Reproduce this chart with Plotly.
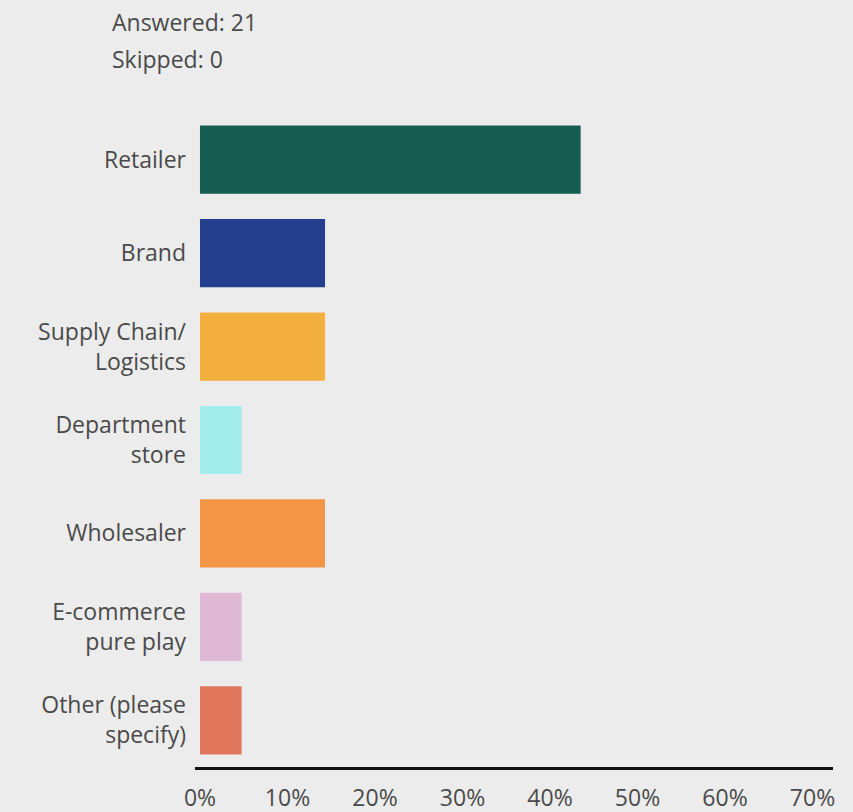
import plotly.graph_objects as go

categories = ["Retailer", "Brand", "Supply Chain/<br>Logistics", "Department<br>store",
              "Wholesaler", "E-commerce<br>pure play", "Other (please<br>specify)"]
values = [43.5, 14.29, 14.29, 4.76, 14.29, 4.76, 4.76]
colors = ["#165c50", "#253f8f", "#f3af3f", "#a3ecec", "#f39646", "#dfb8d6", "#e0775d"]
tick_vals = [0, 10, 20, 30, 40, 50, 60, 70]
tick_text = ["0%", "10%", "20%", "30%", "40%", "50%", "60%", "70%"]

bg = "#ececec"
txt = "#4a4a4a"
font_family = "'Open Sans', Lato, sans-serif"
fs = 23

fig = go.Figure(go.Bar(
    x=values, y=categories, orientation="h",
    marker=dict(color=colors, line=dict(width=0)),
    hoverinfo="skip",
))

fig.update_layout(
    width=853, height=812,
    paper_bgcolor=bg, plot_bgcolor=bg,
    margin=dict(l=195, r=20, t=113, b=45),
    bargap=0.27,
    showlegend=False,
    font=dict(family=font_family, size=fs, color=txt),
    xaxis=dict(
        range=[-0.57, 72.34],
        tickvals=tick_vals, ticktext=tick_text,
        showgrid=False, zeroline=False,
        showline=True, linecolor="#111111", linewidth=3,
        ticks="", ticklabelstandoff=8,
        tickfont=dict(size=fs, color=txt),
        automargin=False,
        fixedrange=True,
    ),
    yaxis=dict(
        categoryorder="array", categoryarray=categories,
        autorange="reversed",
        showgrid=False, zeroline=False, showline=False,
        ticks="", ticklabelstandoff=8,
        tickfont=dict(size=fs, color=txt),
        automargin=False,
        fixedrange=True,
    ),
    annotations=[
        dict(text="Answered: 21", xref="paper", yref="paper", x=-0.133, y=1.139,
             xanchor="left", yanchor="middle", showarrow=False,
             font=dict(size=fs, color=txt)),
        dict(text="Skipped: 0", xref="paper", yref="paper", x=-0.133, y=1.0826,
             xanchor="left", yanchor="middle", showarrow=False,
             font=dict(size=fs, color=txt)),
    ],
)

fig.write_html("out.html")
